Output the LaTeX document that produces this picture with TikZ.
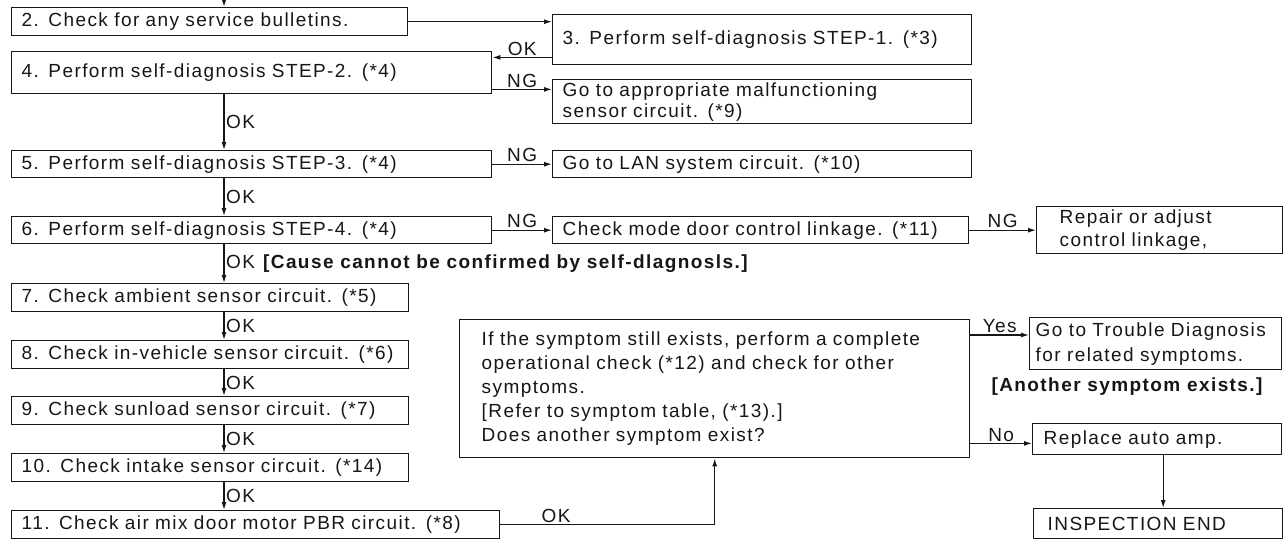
\documentclass[tikz,border=0pt]{standalone}
\usepackage{fontspec}
\setmainfont{Liberation Sans}[LetterSpace=7.5]
\usetikzlibrary{arrows.meta,positioning}

\begin{document}
\begin{tikzpicture}[
    x=1pt, y=-1pt,
    font=\fontsize{19pt}{24pt}\selectfont,
    >={Latex[length=8pt,width=5pt]},
    stepbox/.style={
        draw=inkblack,
        text=inkblack,
        anchor=north west,
        align=left,
        inner xsep=#1,
        inner ysep=0pt,
        line width=1.4pt
    },
    stepbox/.default=10pt,
    flow/.style={->, line width=1.2pt, draw=inkblack},
    tag/.style={inner sep=1.5pt, text=inkblack},
    note/.style={font=\fontsize{19pt}{24pt}\selectfont\bfseries, text=inkblack}
]

\definecolor{inkblack}{RGB}{22,22,22}

\useasboundingbox (0,0) rectangle (1283,539);

% A. Self-diagnosis steps
\coordinate (entry) at (224,0);
\node[stepbox, text width=376pt, minimum height=28pt] (bulletin) at (11,7) {2. Check for any service bulletins.};
\node[stepbox, text width=399pt, minimum height=50pt] (step1) at (552,14) {3. Perform self-diagnosis STEP-1. (*3)};
\node[stepbox, text width=460pt, minimum height=42pt] (step2) at (11,51) {4. Perform self-diagnosis STEP-2. (*4)};
\node[stepbox, text width=399pt, minimum height=44pt, font=\fontsize{19pt}{21pt}\selectfont] (sensor) at (552,79) {Go to appropriate malfunctioning\\sensor circuit. (*9)};
\node[stepbox, text width=460pt, minimum height=27pt] (step3) at (11,150) {5. Perform self-diagnosis STEP-3. (*4)};
\node[stepbox, text width=399pt, minimum height=27pt] (lan) at (552,150) {Go to LAN system circuit. (*10)};
\node[stepbox, text width=460pt, minimum height=27pt] (step4) at (11,216) {6. Perform self-diagnosis STEP-4. (*4)};
\node[stepbox, text width=396pt, minimum height=27pt] (door) at (552,216) {Check mode door control linkage. (*11)};
\node[stepbox=23pt, text width=200pt, minimum height=47pt, font=\fontsize{19pt}{23pt}\selectfont] (linkfix) at (1036,206) {Repair or adjust\\control linkage,};

\draw[flow] (entry) -- (bulletin.north -| entry);
\draw[flow] (bulletin.east) -- (bulletin.east -| step1.west);
\coordinate (okout) at ([yshift=8pt]step1.south west);
\draw[flow] (okout) -- (okout -| step2.east) node[tag, above, midway] {OK};
\coordinate (ngout) at ([yshift=5pt]step2.south east);
\draw[flow] (ngout) -- (ngout -| sensor.west) node[tag, above, midway] {NG};
\draw[flow] (step2.south -| entry) -- (step3.north -| entry) node[tag, right, midway] {OK};
\draw[flow] (step3.east) -- (step3.east -| lan.west) node[tag, above, midway] {NG};
\draw[flow] (step3.south -| entry) -- (step4.north -| entry) node[tag, right, midway] {OK};
\draw[flow] (step4.east) -- (step4.east -| door.west) node[tag, above, midway] {NG};
\draw[flow] (door.east) -- (door.east -| linkfix.west) node[tag, above, midway] {NG};

% B. Sensor circuit checks
\node[stepbox, text width=377pt, minimum height=28pt] (ambient) at (11,283) {7. Check ambient sensor circuit. (*5)};
\node[stepbox, text width=377pt, minimum height=28pt] (cabin) at (11,340) {8. Check in-vehicle sensor circuit. (*6)};
\node[stepbox, text width=377pt, minimum height=28pt] (sunload) at (11,396) {9. Check sunload sensor circuit. (*7)};
\node[stepbox, text width=377pt, minimum height=28pt] (intake) at (11,453) {10. Check intake sensor circuit. (*14)};
\node[stepbox, text width=468pt, minimum height=28pt] (airmix) at (11,510) {11. Check air mix door motor PBR circuit. (*8)};

\draw[flow] (step4.south -| entry) -- (ambient.north -| entry) node[tag, right, midway] {OK \textbf{[Cause cannot be confirmed by self-dlagnosls.]}};
\draw[flow] (ambient.south -| entry) -- (cabin.north -| entry) node[tag, right, midway] {OK};
\draw[flow] (cabin.south -| entry) -- (sunload.north -| entry) node[tag, right, midway] {OK};
\draw[flow] (sunload.south -| entry) -- (intake.north -| entry) node[tag, right, midway] {OK};
\draw[flow] (intake.south -| entry) -- (airmix.north -| entry) node[tag, right, midway] {OK};

% C. Symptom check and end
\node[stepbox=22pt, text width=466pt, minimum height=138pt] (symptom) at (459,319) {If the symptom still exists, perform a complete\\operational check (*12) and check for other\\symptoms.\\{}[Refer to symptom table, (*13).]\\Does another symptom exist?};
\node[stepbox=6pt, text width=240pt, minimum height=52pt, font=\fontsize{19pt}{25pt}\selectfont] (trouble) at (1029,317) {Go to Trouble Diagnosis\\for related symptoms.};
\node[note, anchor=west] (another) at (988,387) {[Another symptom exists.]};
\node[stepbox=11pt, text width=227pt, minimum height=31pt] (amp) at (1032,423) {Replace auto amp.};
\node[stepbox=14pt, text width=221pt, minimum height=30pt] (finish) at (1033,508) {INSPECTION END};

\draw[flow] (airmix.east) -| (symptom.south) node[tag, above, pos=0.13] {OK};
\coordinate (yesout) at ([yshift=-16pt]symptom.north east);
\draw[flow] (yesout) -- (yesout -| trouble.west) node[tag, above, midway] {Yes};
\coordinate (noout) at ([yshift=15pt]symptom.south east);
\draw[flow] (noout) -- (noout -| amp.west) node[tag, above, midway] {No};
\coordinate (ampdown) at ([xshift=6pt]amp.south);
\draw[flow] (ampdown) -- (ampdown |- finish.north);

\end{tikzpicture}
\end{document}
